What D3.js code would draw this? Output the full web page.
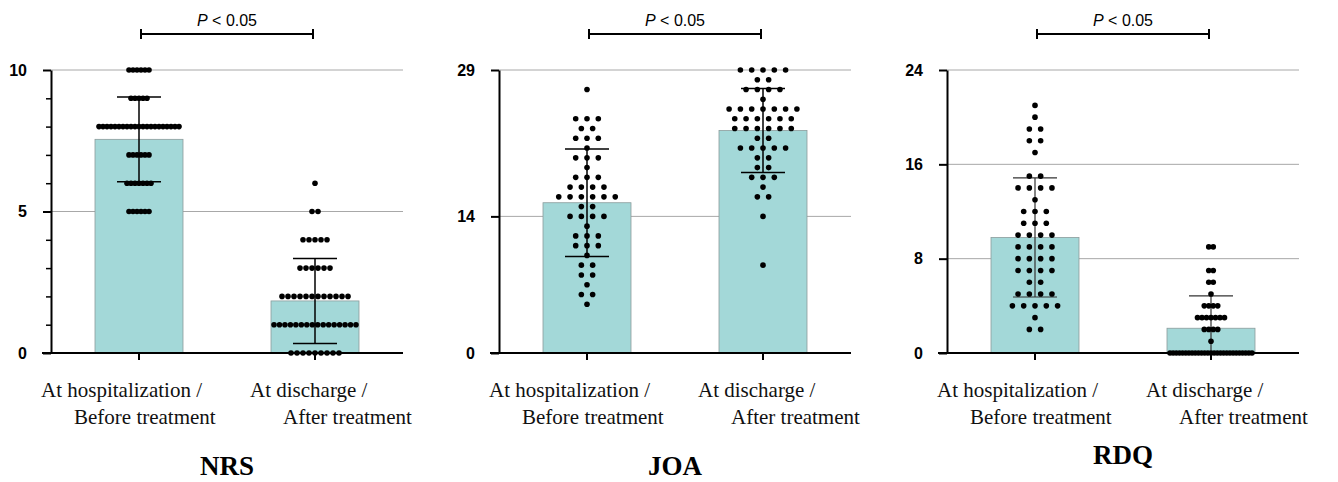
<!DOCTYPE html>
<html>
<head>
<meta charset="utf-8">
<script src="https://cdn.jsdelivr.net/npm/d3@7"></script>
<style>
  body { margin: 0; background: #fff; }
  svg { display: block; }
  .serif { font-family: "Liberation Serif", "Times New Roman", "DejaVu Serif", serif; }
  .sans { font-family: "Liberation Sans", Arial, Helvetica, sans-serif; }
</style>
</head>
<body>
<div id="chart"></div>
<script>
// ---- data ----
const panelTitles = ["NRS", "JOA", "RDQ"];
const categoryLines = [["At hospitalization /", "Before treatment"], ["At discharge /", "After treatment"]];
const yMaxes = [10, 29, 24];
const yTickValues = [[0, 5, 10], [0, 14, 29], [0, 8, 16, 24]];
const yMinorValues = [[1, 2, 3, 4, 6, 7, 8, 9], [], []];
const barMeans = [[7.55, 1.84], [15.4, 22.8], [9.8, 2.1]];
const barSDs = [[1.5, 1.5], [5.5, 4.3], [5.05, 2.75]];
const pLabel = "P < 0.05";

// [value, number of patients]
const nrsBefore = [[10, 6], [9, 5], [8, 21], [7, 6], [6, 7], [5, 6]];
const nrsAfter = [[6, 1], [5, 2], [4, 5], [3, 6], [2, 12], [1, 16], [0, 9]];
const joaBefore = [[27, 1], [24, 3], [23, 2], [22, 3], [21, 1], [20, 3], [19, 1], [18, 3], [17, 4], [16, 6], [15, 2],
                   [14, 4], [13, 1], [12, 3], [11, 3], [10, 1], [9, 2], [8, 2], [7, 1], [6, 2], [5, 1]];
const joaAfter = [[29, 5], [28, 2], [27, 4], [26, 1], [25, 7], [24, 6], [23, 6], [22, 2], [21, 5], [20, 2], [19, 2],
                  [18, 3], [17, 1], [16, 2], [14, 1], [9, 1]];
const rdqBefore = [[21, 1], [20, 1], [19, 2], [18, 2], [17, 1], [15, 2], [14, 4], [13, 1], [12, 3], [11, 3], [10, 4],
                   [9, 4], [8, 4], [7, 4], [6, 2], [5, 4], [4, 5], [3, 1], [2, 2]];
const rdqAfter = [[9, 2], [7, 2], [6, 2], [5, 1], [4, 4], [3, 7], [2, 4], [1, 1], [0, 27]];
const panelDots = [[nrsBefore, nrsAfter], [joaBefore, joaAfter], [rdqBefore, rdqAfter]];

// ---- layout ----
const W = 1338, H = 482;
const axisX = [51, 499, 947];
const plotW = 352;
const yTop = 70, yBottom = 353;
const dotSpacing = [[4, 6], [11.3, 11.3], [11.3, 4.5]];
const maxRowSpan = 82;
const titleY = [475, 475, 464];
const barFill = "#a3d8d8";

const svg = d3.select("#chart").append("svg")
    .attr("width", W)
    .attr("height", H);

panelTitles.forEach((title, p) => {
    const ax = axisX[p];
    const g = svg.append("g");

    const x = d3.scaleBand()
        .domain([0, 1])
        .range([ax, ax + plotW])
        .paddingInner(0.5)
        .paddingOuter(0.25);
    const y = d3.scaleLinear()
        .domain([0, yMaxes[p]])
        .range([yBottom, yTop]);
    const cx = i => x(i) + x.bandwidth() / 2;

    // gridlines
    g.selectAll(".grid")
        .data(yTickValues[p].filter(d => d > 0))
        .join("line")
        .attr("class", "grid")
        .attr("x1", ax).attr("x2", ax + plotW)
        .attr("y1", d => y(d)).attr("y2", d => y(d))
        .attr("stroke", "#a8a8a8")
        .attr("stroke-width", 1);

    // bars
    g.selectAll(".bar")
        .data(barMeans[p])
        .join("rect")
        .attr("class", "bar")
        .attr("x", (d, i) => x(i))
        .attr("y", d => y(d))
        .attr("width", x.bandwidth())
        .attr("height", d => yBottom - y(d))
        .attr("fill", barFill)
        .attr("stroke", "#8c9c9c")
        .attr("stroke-width", 0.8);

    // error bars (mean +/- SD)
    barMeans[p].forEach((m, i) => {
        const sd = barSDs[p][i];
        const lo = Math.max(0, m - sd);
        const eg = g.append("g")
            .attr("stroke", p === 2 ? "#333" : "#000")
            .attr("stroke-width", p === 2 ? 1.2 : 1.5);
        eg.append("line")
            .attr("x1", cx(i)).attr("x2", cx(i))
            .attr("y1", y(m + sd)).attr("y2", y(lo));
        eg.append("line")
            .attr("x1", cx(i) - 22).attr("x2", cx(i) + 22)
            .attr("y1", y(m + sd)).attr("y2", y(m + sd));
        if (m - sd > 0) {
            eg.append("line")
                .attr("x1", cx(i) - 22).attr("x2", cx(i) + 22)
                .attr("y1", y(m - sd)).attr("y2", y(m - sd));
        }
    });

    // individual patients, spread in rows
    panelDots[p].forEach((rows, i) => {
        const pts = [];
        rows.forEach(([v, n]) => {
            let s = dotSpacing[p][i];
            if ((n - 1) * s > maxRowSpan) s = maxRowSpan / (n - 1);
            for (let k = 0; k < n; k++) {
                pts.push({ v: v, off: (k - (n - 1) / 2) * s });
            }
        });
        g.append("g").selectAll("circle")
            .data(pts)
            .join("circle")
            .attr("cx", d => cx(i) + d.off)
            .attr("cy", d => y(d.v))
            .attr("r", 2.8)
            .attr("fill", "#000");
    });

    // y axis
    const yAxis = g.append("g")
        .attr("transform", `translate(${ax},0)`)
        .call(d3.axisLeft(y).tickValues(yTickValues[p]).tickSize(8).tickSizeOuter(0).tickPadding(16));
    yAxis.select(".domain").attr("stroke-width", 2);
    yAxis.selectAll(".tick line").attr("stroke-width", 2);
    yAxis.selectAll(".tick text")
        .attr("class", "sans")
        .attr("font-family", null)
        .attr("font-size", 16)
        .attr("font-weight", "bold")
        .attr("fill", "#000");

    if (yMinorValues[p].length) {
        const minor = g.append("g")
            .attr("transform", `translate(${ax},0)`)
            .call(d3.axisLeft(y).tickValues(yMinorValues[p]).tickSize(5).tickFormat(""));
        minor.select(".domain").remove();
        minor.selectAll(".tick line").attr("stroke-width", 1.5);
    }

    // x axis
    g.append("line")
        .attr("x1", ax - 9).attr("x2", ax + plotW)
        .attr("y1", yBottom).attr("y2", yBottom)
        .attr("stroke", "#000")
        .attr("stroke-width", 2);
    const xAxis = g.append("g")
        .attr("transform", `translate(0,${yBottom})`)
        .call(d3.axisBottom(x).tickSize(7).tickFormat(""));
    xAxis.select(".domain").remove();
    xAxis.selectAll(".tick line").attr("stroke-width", 2);

    // category labels
    const lineOffsets = [[-98, -65], [-65, -32]];
    categoryLines.forEach((lines, i) => {
        lines.forEach((t, j) => {
            g.append("text")
                .attr("class", "serif")
                .attr("x", cx(i) + lineOffsets[i][j])
                .attr("y", 397 + j * 27)
                .attr("font-size", 21)
                .attr("fill", "#111")
                .text(t);
        });
    });

    // significance bracket
    const by = 34;
    const br = g.append("g").attr("stroke", "#000").attr("stroke-width", 2);
    br.append("line").attr("x1", cx(0) + 2).attr("x2", cx(1) - 2).attr("y1", by).attr("y2", by);
    br.append("line").attr("x1", cx(0) + 2).attr("x2", cx(0) + 2).attr("y1", by - 5).attr("y2", by + 5);
    br.append("line").attr("x1", cx(1) - 2).attr("x2", cx(1) - 2).attr("y1", by - 5).attr("y2", by + 5);

    const pt = g.append("text")
        .attr("class", "sans")
        .attr("x", (cx(0) + cx(1)) / 2)
        .attr("y", 26)
        .attr("text-anchor", "middle")
        .attr("font-size", 16)
        .attr("fill", "#000");
    pt.append("tspan").attr("font-style", "italic").text(pLabel.slice(0, 1));
    pt.append("tspan").text(pLabel.slice(1));

    // panel title
    g.append("text")
        .attr("class", "serif")
        .attr("x", ax + plotW / 2)
        .attr("y", titleY[p])
        .attr("text-anchor", "middle")
        .attr("font-size", 27)
        .attr("font-weight", "bold")
        .attr("fill", "#000")
        .text(title);
});
</script>
</body>
</html>
